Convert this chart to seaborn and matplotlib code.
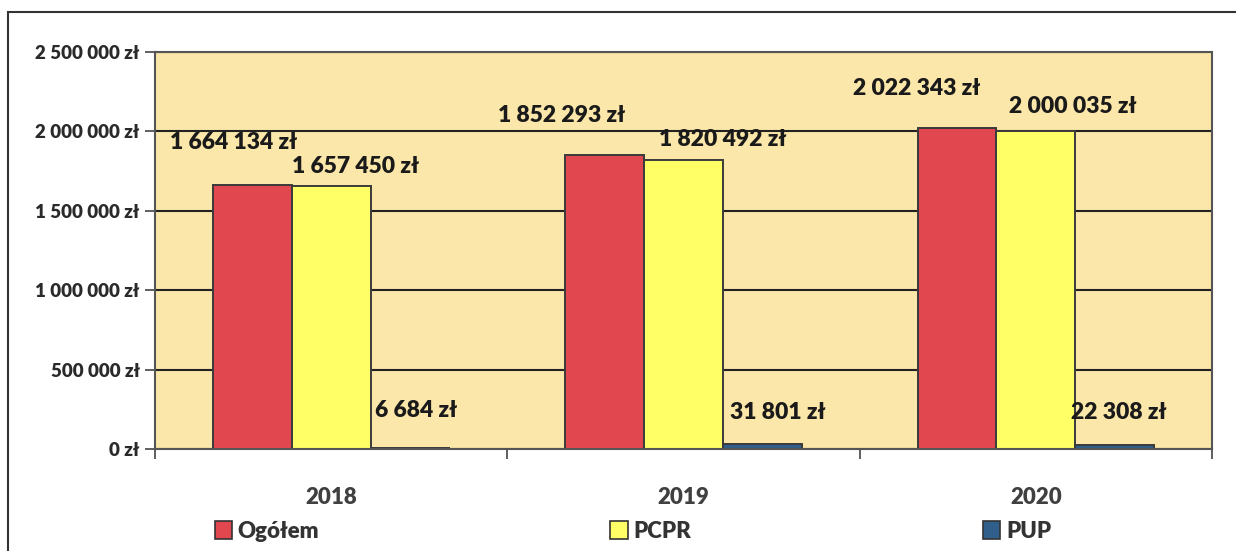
import numpy as np
import pandas as pd
import matplotlib.pyplot as plt
from matplotlib.patches import Patch, Rectangle
from matplotlib.ticker import FuncFormatter
import seaborn as sns

years = ["2018", "2019", "2020"]
series = ["Ogółem", "PCPR", "PUP"]
ogolem = [1664134, 1852293, 2022343]
pcpr = [1657450, 1820492, 2000035]
pup = [6684, 31801, 22308]

colors = ["#E0474F", "#FFFF66", "#2F5F8A"]
# label offsets in pixels (dx, dy) from the bar top centre, per series / year
label_dx = [[-19, -43, -40], [24, 39, 37], [6, 16, 4]]
label_dy = [[42, 39, 39], [19, 20, 25], [37, 31, 33]]

df = pd.DataFrame({
    "rok": years * 3,
    "kwota": ogolem + pcpr + pup,
    "seria": [s for s in series for _ in years],
})

def pln(v, pos=None):
    return f"{int(round(v)):,}".replace(",", " ") + " zł"

W = "heavy"

sns.set_theme(style="white")
plt.rcParams["font.family"] = ["Lato", "DejaVu Sans"]
plt.rcParams["font.weight"] = W

fig = plt.figure(figsize=(12.36, 5.51), dpi=100)
ax = fig.add_axes([155 / 1236, 1 - 449 / 551, (1212 - 155) / 1236, (449 - 52) / 551])
ax.set_facecolor("#FBE7A9")

sns.barplot(data=df, x="rok", y="kwota", hue="seria", palette=colors,
            width=0.67, edgecolor="#3a3a3a", linewidth=1.4, saturation=1,
            legend=False, ax=ax)

ax.set_ylim(0, 2500000)
ax.set_yticks(np.arange(0, 2500001, 500000))
ax.yaxis.set_major_formatter(FuncFormatter(pln))
ax.set_axisbelow(True)
ax.yaxis.grid(True, color="#222222", linewidth=1.5)
ax.set_xlabel("")
ax.set_ylabel("")

# x ticks between categories like the original
ax.set_xticks([-0.5, 0.5, 1.5, 2.5], minor=False)
ax.set_xticklabels([""] * 4)
ax.set_xticks([0, 1, 2], minor=True)
ax.set_xticklabels(years, minor=True, fontweight=W)
ax.tick_params(axis="x", which="minor", length=0, pad=27, labelsize=16,
               labelcolor="#404040")
ax.tick_params(axis="x", which="major", direction="out", length=7, width=1.2,
               color="#444444", bottom=True)
ax.tick_params(axis="y", direction="out", length=7, width=1.2, color="#444444",
               left=True, labelsize=13.5, labelcolor="#2a2a2a", pad=4)
for lab in ax.get_yticklabels():
    lab.set_fontweight(W)
ax.set_xlim(-0.5, 2.5)

for sp in ax.spines.values():
    sp.set_color("#555555")
    sp.set_linewidth(1.5)

for i, cont in enumerate(ax.containers):
    for j, bar in enumerate(cont):
        x = bar.get_x() + bar.get_width() / 2
        y = bar.get_height()
        ax.annotate(pln(y), (x, y),
                    xytext=(label_dx[i][j] * 0.72, label_dy[i][j] * 0.72),
                    textcoords="offset points", ha="center", va="center",
                    fontsize=16.5, fontweight=W, color="#1a1a1a")

handles = [Patch(facecolor=c, edgecolor="#333333", linewidth=1.2) for c in colors]
leg = fig.legend(handles, series, loc="center", bbox_to_anchor=(0.512, 0.036),
                 ncol=3, frameon=False, handlelength=0.8, handleheight=0.9,
                 handletextpad=0.25, columnspacing=13.1,
                 prop={"weight": W, "size": 16})
for t in leg.get_texts():
    t.set_color("#333333")

# outer chart frame (top and left edges visible)
fig.add_artist(Rectangle((8 / 1236, -0.2), 1.2, 1 - 12 / 551 + 0.2,
                         transform=fig.transFigure, fill=False,
                         edgecolor="#333333", linewidth=1.5))

fig.savefig("out.png", dpi=100)
